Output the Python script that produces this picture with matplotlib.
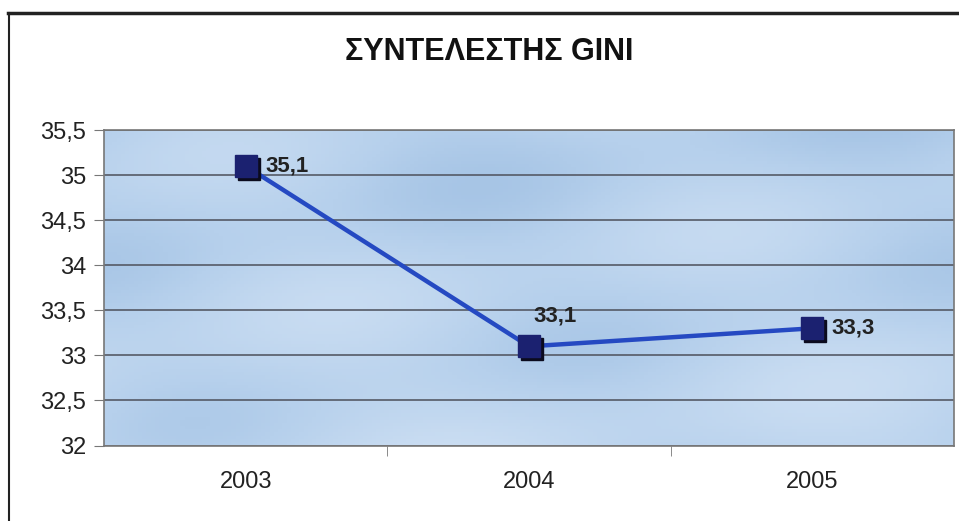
import numpy as np
import matplotlib.pyplot as plt
import matplotlib.transforms as mtransforms

plt.rcParams['font.family'] = ['Liberation Sans', 'DejaVu Sans']

years = ['2003', '2004', '2005']
gini = [35.1, 33.1, 33.3]
labels = ['35,1', '33,1', '33,3']
yticks = [32, 32.5, 33, 33.5, 34, 34.5, 35, 35.5]

fig = plt.figure(figsize=(9.59, 5.21), dpi=100)
ax = fig.add_axes([104 / 959, 75.5 / 521, 850 / 959, 315.5 / 521])

# soft blue background for the plot area
x = np.arange(len(years))
ax.set_xlim(-0.5, 2.5)
ax.set_ylim(32, 35.5)
gx, gy = np.meshgrid(np.linspace(0, 1, 200), np.linspace(0, 1, 100))
shade = 0.5 + 0.25 * np.sin(gx * 9 + gy * 4) * np.cos(gy * 7 - gx * 3) + 0.15 * gy
cmap = plt.matplotlib.colors.LinearSegmentedColormap.from_list('bg', ['#95b8de', '#b6d0ec', '#d0e1f4'])
ax.imshow(shade, extent=(-0.5, 2.5, 32, 35.5), aspect='auto', cmap=cmap, vmin=0, vmax=1, zorder=0)

ax.set_yticks(yticks)
ax.set_yticklabels([str(v).replace('.', ',').replace(',0', '') for v in yticks], fontsize=17, color='#222222')
ax.set_xticks(x)
ax.set_xticklabels(years, fontsize=17, color='#222222')
ax.set_xticks([0.5, 1.5], minor=True)
ax.tick_params(axis='x', which='major', length=0, pad=18)
ax.tick_params(axis='x', which='minor', length=7, color='#777777')
ax.tick_params(axis='y', length=7, color='#777777', pad=6)
ax.grid(axis='y', color='#555a66', linewidth=1.2, zorder=1)
for s in ax.spines.values():
    s.set_color('#777777')
    s.set_linewidth(1.2)

# line, then square markers with a dark drop shadow
ax.plot(x, gini, color='#2549c2', linewidth=3.2, zorder=3)
shadow = ax.transData + mtransforms.ScaledTranslation(3 / 100, -3 / 100, fig.dpi_scale_trans)
ax.plot(x, gini, linestyle='none', marker='s', markersize=16.5, color='#0b0b1e', transform=shadow, zorder=3.5)
ax.plot(x, gini, linestyle='none', marker='s', markersize=16.5, markerfacecolor='#1b2170',
        markeredgecolor='#1b2170', zorder=4)

offsets = [(14, 0), (3, 22), (14, 0)]
for xi, yi, lab, off in zip(x, gini, labels, offsets):
    ax.annotate(lab, (xi, yi), xytext=off, textcoords='offset points', ha='left', va='center',
                fontsize=16, fontweight='bold', color='#222222', zorder=5)

fig.text(489 / 959, 1 - 52 / 521, 'ΣΥΝΤΕΛΕΣΤΗΣ GINI', ha='center', va='center', fontsize=22,
         fontweight='bold', color='#111111')

# frame lines along top and left edges
fig.add_artist(plt.Line2D([8 / 959, 1], [1 - 13 / 521, 1 - 13 / 521], color='#222222', linewidth=2.5))
fig.add_artist(plt.Line2D([9 / 959, 9 / 959], [0, 1 - 13 / 521], color='#222222', linewidth=1.5))

fig.savefig('out.png', dpi=100)
